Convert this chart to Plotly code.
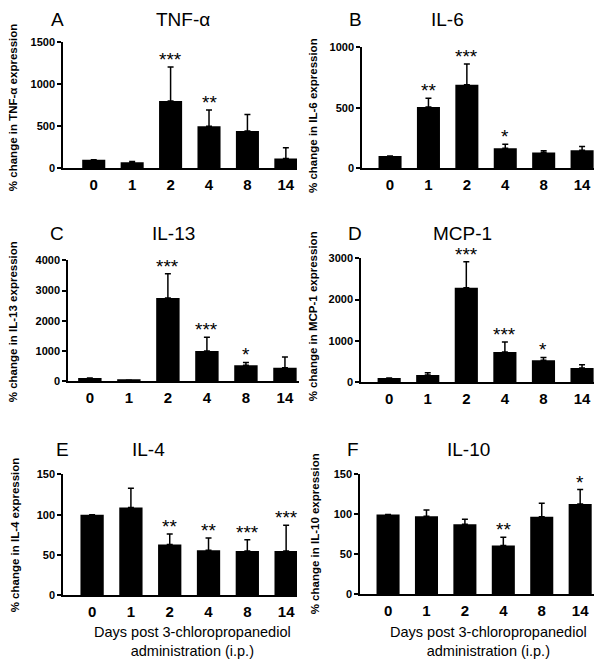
import plotly.graph_objects as go

W, H = 602, 669

days = ["0", "1", "2", "4", "8", "14"]

tnf_mean = [100, 68, 800, 500, 443, 114]
tnf_err = [0, 10, 405, 192, 195, 129]
tnf_sig = ["", "", "***", "**", "", ""]

il6_mean = [100, 505, 690, 163, 128, 147]
il6_err = [0, 72, 172, 35, 15, 32]
il6_sig = ["", "**", "***", "*", "", ""]

il13_mean = [100, 30, 2750, 1000, 530, 440]
il13_err = [0, 0, 810, 450, 90, 360]
il13_sig = ["", "", "***", "***", "*", ""]

mcp1_mean = [100, 175, 2290, 730, 530, 340]
mcp1_err = [0, 55, 630, 240, 70, 80]
mcp1_sig = ["", "", "***", "***", "*", ""]

il4_mean = [100, 109, 63, 56, 55, 55]
il4_err = [0, 24, 13, 15, 14, 32]
il4_sig = ["", "", "**", "**", "***", "***"]

il10_mean = [100, 97.5, 87.5, 61, 97, 113]
il10_err = [0, 8, 6.5, 10.5, 17, 18]
il10_sig = ["", "", "", "**", "", "*"]

FONT = "Liberation Sans, Arial, sans-serif"

panels = [
    dict(letter="A", title="TNF-α", mean=tnf_mean, err=tnf_err, sig=tnf_sig,
         ylabel="% change in TNF-α expression", ymax=1500, dtick=500,
         box=(63, 297, 37, 165), xr=(-0.8, 5.29), lx=57, tx=183, ty=14, ylx=13, yly=104),
    dict(letter="B", title="IL-6", mean=il6_mean, err=il6_err, sig=il6_sig,
         ylabel="% change in IL-6 expression", ymax=1000, dtick=500,
         box=(362, 594, 42, 165), xr=(-0.73, 5.31), lx=355, tx=447, ty=14, ylx=313, yly=112),
    dict(letter="C", title="IL-13", mean=il13_mean, err=il13_err, sig=il13_sig,
         ylabel="% change in IL-13 expression", ymax=4000, dtick=1000,
         box=(68, 299, 259, 382), xr=(-0.56, 5.36), lx=57, tx=173, ty=232, ylx=13, yly=322),
    dict(letter="D", title="MCP-1", mean=mcp1_mean, err=mcp1_err, sig=mcp1_sig,
         ylabel="% change in MCP-1 expression", ymax=3000, dtick=1000,
         box=(361, 594, 257, 383), xr=(-0.73, 5.31), lx=355, tx=462, ty=232, ylx=313, yly=316),
    dict(letter="E", title="IL-4", mean=il4_mean, err=il4_err, sig=il4_sig,
         ylabel="% change in IL-4 expression", ymax=150, dtick=50,
         box=(63, 297, 477, 600), xr=(-0.75, 5.28), lx=62, tx=148, ty=452, ylx=15, yly=539),
    dict(letter="F", title="IL-10", mean=il10_mean, err=il10_err, sig=il10_sig,
         ylabel="% change in IL-10 expression", ymax=150, dtick=50,
         box=(360, 594, 477, 599), xr=(-0.73, 5.36), lx=353, tx=468, ty=452, ylx=315, yly=538),
]

fig = go.Figure()
annotations = []
layout = {}


def px(x):
    return x / W


def py(y):
    return 1 - y / H


for i, p in enumerate(panels, start=1):
    xa = "x" if i == 1 else f"x{i}"
    ya = "y" if i == 1 else f"y{i}"
    x0, x1, yt, yb = p["box"]
    fig.add_trace(go.Bar(
        x=days, y=p["mean"], xaxis=xa, yaxis=ya, width=0.6,
        marker=dict(color="black", line=dict(width=0)),
        error_y=dict(type="data", symmetric=False, array=p["err"],
                     arrayminus=[0] * len(days), color="black",
                     thickness=1.5, width=3, visible=True),
        showlegend=False, hoverinfo="skip",
    ))
    layout[f"xaxis{'' if i == 1 else i}"] = dict(
        domain=[px(x0), px(x1)], anchor=ya, type="category",
        range=list(p["xr"]), showline=True, linecolor="black", linewidth=1.5,
        ticks="", showgrid=False, zeroline=False,
        tickfont=dict(family=FONT, size=15, color="black", weight="bold"),
        ticklabelstandoff=2,
    )
    layout[f"yaxis{'' if i == 1 else i}"] = dict(
        domain=[py(yb), py(yt)], anchor=xa, range=[0, p["ymax"]],
        dtick=p["dtick"], tick0=0, showline=True, linecolor="black", linewidth=1.5,
        ticks="outside", ticklen=4, tickwidth=1.5, tickcolor="black",
        showgrid=False, zeroline=False,
        tickfont=dict(family=FONT, size=11, color="black", weight="bold"),
    )
    annotations.append(dict(text=p["letter"], x=px(p["lx"]), y=py(p["ty"]), xref="paper", yref="paper",
                            xanchor="center", yanchor="middle", showarrow=False,
                            font=dict(family=FONT, size=19, color="black")))
    annotations.append(dict(text=p["title"], x=px(p["tx"]), y=py(p["ty"]), xref="paper", yref="paper",
                            xanchor="center", yanchor="middle", showarrow=False,
                            font=dict(family=FONT, size=19, color="black")))
    annotations.append(dict(text=p["ylabel"], x=px(p["ylx"]), y=py(p["yly"]), xref="paper", yref="paper",
                            xanchor="center", yanchor="middle", showarrow=False, textangle=-90,
                            font=dict(family=FONT, size=11.5, color="black", weight="bold")))
    for j, (m, e, s) in enumerate(zip(p["mean"], p["err"], p["sig"])):
        if s:
            annotations.append(dict(text=s, x=j, y=m + e, xref=xa, yref=ya,
                                    xanchor="center", yanchor="bottom", yshift=-5, showarrow=False,
                                    font=dict(family=FONT, size=19, color="black")))

for xc in (192, 488):
    annotations.append(dict(text="Days post 3-chloropropanediol<br>administration (i.p.)",
                            x=px(xc), y=py(647), xref="paper", yref="paper",
                            xanchor="center", yanchor="middle", showarrow=False,
                            font=dict(family=FONT, size=14.5, color="black")))

fig.update_layout(
    width=W, height=H, margin=dict(l=0, r=0, t=0, b=0),
    paper_bgcolor="white", plot_bgcolor="white",
    annotations=annotations, bargap=0.4,
    **layout,
)

fig.write_html("out.html", config={"displayModeBar": False},
               post_script="document.body.style.margin='0';document.body.style.overflow='hidden';")
